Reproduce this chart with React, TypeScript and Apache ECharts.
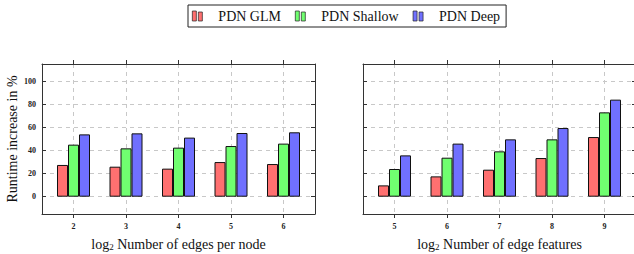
import React, { useEffect, useRef } from "react";
import * as echarts from "echarts";

const seriesNames = ["PDN GLM", "PDN Shallow", "PDN Deep"];
const colors = ["#ff7070", "#70ff70", "#7070ff"];

const leftCats = [2, 3, 4, 5, 6];
const leftGLM = [27.5, 26, 24.3, 30, 28.3];
const leftShallow = [45.1, 41.9, 42.5, 43.9, 46];
const leftDeep = [54, 54.9, 51.2, 55.2, 55.8];

const rightCats = [5, 6, 7, 8, 9];
const rightGLM = [9.8, 17.6, 23.4, 33.5, 51.7];
const rightShallow = [24, 33.8, 39.3, 49.7, 73.1];
const rightDeep = [35.8, 46, 49.7, 59.5, 84.1];

const yTicks = [0, 20, 40, 60, 80, 100];
const leftTitle = "Number of edges per node";
const rightTitle = "Number of edge features";
const yTitle = "Runtime increase in %";

const FONT = "Liberation Serif";

export default function App() {
  const ref = useRef<HTMLDivElement>(null);
  useEffect(() => {
    const chart = echarts.init(ref.current!, null, { renderer: "svg" });
    const axisLineStyle = { color: "#333", width: 1 };
    const split = { show: true, lineStyle: { color: "#c8c8c8", type: [4, 4] as any, width: 1 } };
    const tickLabel = { fontFamily: FONT, fontSize: 8, fontWeight: "bold" as const, color: "#222" };
    const xName = (t: string) => "{a|log}{s|2}{a| " + t + "}";
    const nameStyle = {
      fontFamily: FONT,
      fontSize: 14,
      color: "#111",
      rich: {
        a: { fontFamily: FONT, fontSize: 14, color: "#111", padding: [0, 0, 5, 0] },
        s: { fontFamily: FONT, fontSize: 9, color: "#111" },
      },
    };
    const makeX = (gi: number, cats: number[], title: string) => [
      {
        type: "value",
        gridIndex: gi,
        position: "bottom",
        min: cats[0] - 0.6,
        max: cats[cats.length - 1] + 0.6,
        axisLine: { show: true, onZero: false, lineStyle: axisLineStyle },
        axisTick: { show: true, inside: false, length: 4, customValues: cats, lineStyle: axisLineStyle },
        axisLabel: { customValues: cats, margin: 8, ...tickLabel, formatter: (v: number) => String(v) },
        splitLine: split,
        name: xName(title),
        nameLocation: "middle",
        nameGap: 23,
        nameTextStyle: nameStyle,
      },
      {
        type: "value",
        gridIndex: gi,
        position: "top",
        min: cats[0] - 0.6,
        max: cats[cats.length - 1] + 0.6,
        axisLine: { show: true, onZero: false, lineStyle: axisLineStyle },
        axisTick: { show: true, inside: false, length: 4, customValues: cats, lineStyle: axisLineStyle },
        axisLabel: { show: false, customValues: cats },
        splitLine: { show: false },
      },
    ];
    const makeY = (gi: number, labels: boolean) => [
      {
        type: "value",
        gridIndex: gi,
        position: "left",
        min: -15,
        max: 115,
        axisLine: { show: true, onZero: false, lineStyle: axisLineStyle },
        axisTick: { show: true, inside: true, length: 4, customValues: yTicks, lineStyle: axisLineStyle },
        axisLabel: { show: labels, customValues: yTicks, margin: 6, ...tickLabel },
        splitLine: split,
        name: labels ? yTitle : "",
        nameLocation: "middle",
        nameGap: 23,
        nameTextStyle: { fontFamily: FONT, fontSize: 14, color: "#111" },
      },
      {
        type: "value",
        gridIndex: gi,
        position: "right",
        min: -15,
        max: 115,
        axisLine: { show: true, onZero: false, lineStyle: axisLineStyle },
        axisTick: { show: true, inside: true, length: 4, customValues: yTicks, lineStyle: axisLineStyle },
        axisLabel: { show: false, customValues: yTicks },
        splitLine: { show: false },
      },
    ];
    const makeSeries = (gi: number, cats: number[], vals: number[][]) =>
      vals.map((v, i) => ({
        type: "bar",
        name: seriesNames[i],
        xAxisIndex: gi * 2,
        yAxisIndex: gi * 2,
        data: cats.map((c, j) => [c, v[j]]),
        barWidth: 11,
        barGap: "0%",
        itemStyle: { color: colors[i], borderColor: "#111", borderWidth: 1 },
      }));

    chart.setOption({
      animation: false,
      backgroundColor: "#fff",
      legend: {
        data: seriesNames,
        left: 188,
        top: 5,
        orient: "horizontal",
        padding: [4, 6, 4, 4],
        itemGap: 14,
        itemWidth: 10,
        itemHeight: 10,
        borderColor: "#222",
        borderWidth: 1,
        icon: "path://M0,0h4v10h-4z M6,1h4v9h-4z",
        itemStyle: { borderColor: "#222", borderWidth: 0.7 },
        textStyle: { fontFamily: FONT, fontSize: 14, color: "#111", padding: [0, 0, 0, 11] },
      },
      grid: [
        { left: 42, top: 64, width: 273, height: 150, outerBoundsMode: "none" },
        { left: 363, top: 64, width: 273, height: 150, outerBoundsMode: "none" },
      ],
      xAxis: [...makeX(0, leftCats, leftTitle), ...makeX(1, rightCats, rightTitle)],
      yAxis: [...makeY(0, true), ...makeY(1, false)],
      series: [
        ...makeSeries(0, leftCats, [leftGLM, leftShallow, leftDeep]),
        ...makeSeries(1, rightCats, [rightGLM, rightShallow, rightDeep]),
      ],
    } as any);
    return () => chart.dispose();
  }, []);
  return (
    <div
      ref={ref}
      style={{ position: "absolute", left: 0, top: 0, width: 634, height: 254 }}
    />
  );
}
